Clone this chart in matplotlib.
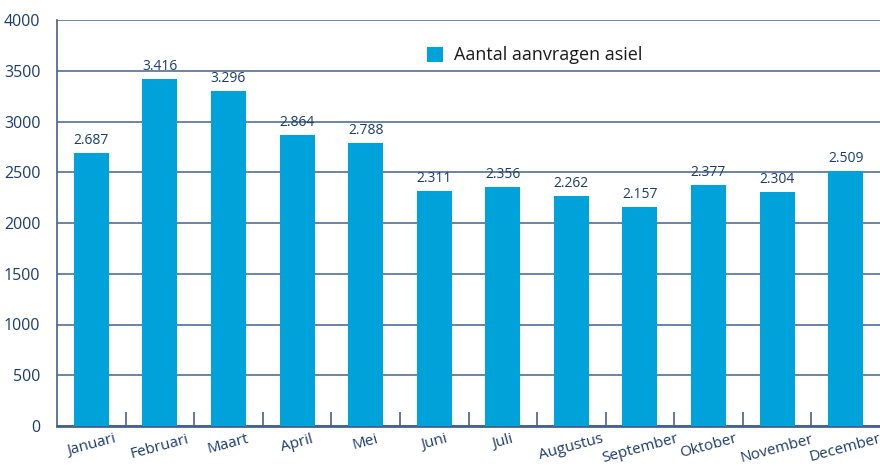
import matplotlib
matplotlib.use("Agg")
import matplotlib.pyplot as plt
import numpy as np

months = ["Januari", "Februari", "Maart", "April", "Mei", "Juni", "Juli",
          "Augustus", "September", "Oktober", "November", "December"]
values = [2687, 3416, 3296, 2864, 2788, 2311, 2356, 2262, 2157, 2377, 2304, 2509]
value_labels = ["2.687", "3.416", "3.296", "2.864", "2.788", "2.311", "2.356",
                "2.262", "2.157", "2.377", "2.304", "2.509"]
yticks = [0, 500, 1000, 1500, 2000, 2500, 3000, 3500, 4000]
series_name = "Aantal aanvragen asiel"

plt.rcParams['font.family'] = ['Open Sans', 'DejaVu Sans']
navy = "#1c3c6e"
grid_c = "#46618c"
bar_c = "#00a3d9"

fig = plt.figure(figsize=(8.8, 4.66), dpi=100)
ax = fig.add_axes([57/880, 1-426/466, 1-57/880, (426-20)/466])

x = np.arange(len(months))
ax.bar(x, values, width=0.51, color=bar_c, zorder=3, label=series_name)
for xi, v, lab in zip(x, values, value_labels):
    ax.text(xi, v + 50, lab, ha='center', va='bottom', fontsize=10, color=navy, zorder=4)

ax.set_xlim(-0.5, len(months) - 0.5)
ax.set_ylim(0, 4000)
ax.set_yticks(yticks)
ax.set_yticklabels([str(t) for t in yticks], fontsize=11.5, color=navy)
ax.yaxis.grid(True, color=grid_c, linewidth=1.1, zorder=0)
ax.tick_params(axis='y', length=0, pad=12)

ax.set_xticks(x)
ax.set_xticklabels(months, rotation=15, fontsize=11, color=navy, ha='center')
ax.tick_params(axis='x', which='major', length=0, pad=4)
ax.set_xticks(np.arange(0.5, len(months) - 0.5, 1), minor=True)
ax.tick_params(axis='x', which='minor', direction='in', length=10, width=1.2, color=grid_c)

for s in ['top', 'right']:
    ax.spines[s].set_visible(False)
ax.spines['left'].set_color(grid_c)
ax.spines['left'].set_linewidth(1.2)
ax.spines['bottom'].set_color(grid_c)
ax.spines['bottom'].set_linewidth(2)

leg = ax.legend(loc='upper left', bbox_to_anchor=(0.43, 0.975), frameon=False,
                fontsize=13, handlelength=0.9, handleheight=0.9, handletextpad=0.6)
for t in leg.get_texts():
    t.set_color("#1a1a1a")

fig.savefig("out.png", dpi=100)
